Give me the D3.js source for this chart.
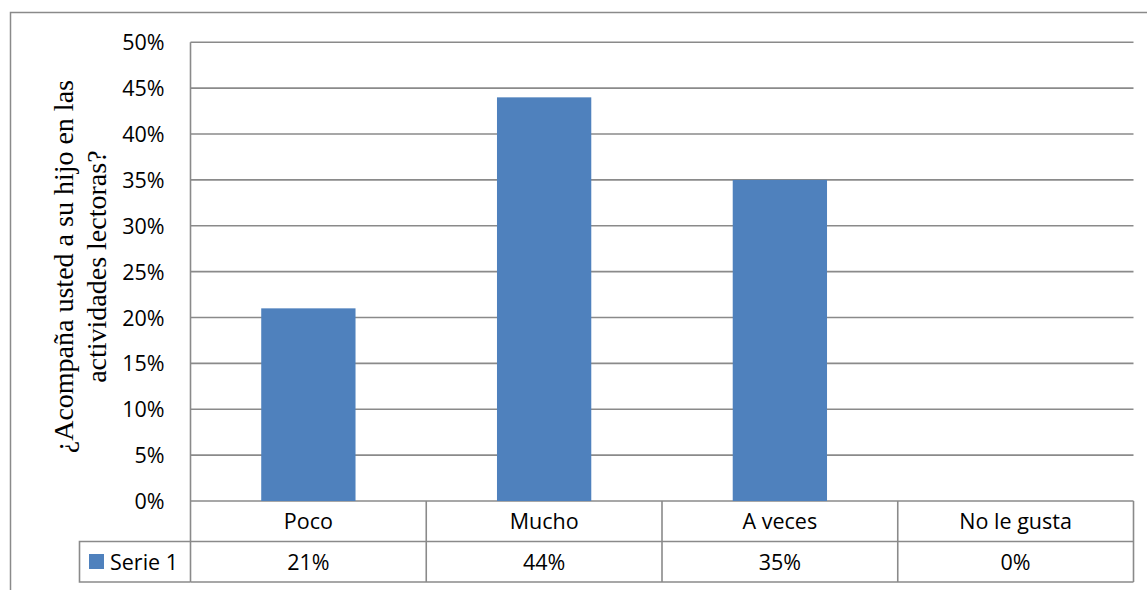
<!DOCTYPE html>
<html><head><meta charset="utf-8">
<script src="https://cdn.jsdelivr.net/npm/d3@7"></script>
<style>body{margin:0;background:#fff}svg{display:block}</style>
</head><body>
<svg id="c" width="1147" height="590"></svg>
<script>
const categories = ["Poco", "Mucho", "A veces", "No le gusta"];
const seriesName = "Serie 1";
const values = [0.21, 0.44, 0.35, 0.00];
const yTicks = [0, 0.05, 0.10, 0.15, 0.20, 0.25, 0.30, 0.35, 0.40, 0.45, 0.50];
const yTitleLines = ["¿Acompaña usted a su hijo en las", "actividades lectoras?"];

const svg = d3.select("#c");
const L = 190.5, R = 1133.5, T = 42.3, B = 501;
const rowH = 40.5;
const gridColor = "#8a8a8a";
const font = "'Open Sans', 'Liberation Sans', sans-serif";
const fs = 21.5;

// outer frame
svg.append("path").attr("d", `M10.5,590 V12.5 H1147`).attr("fill","none")
  .attr("stroke", gridColor).attr("stroke-width", 1.5);

const y = d3.scaleLinear().domain([0, 0.5]).range([B, T]);
const xCol = d3.scaleBand().domain(categories).range([L, R]).padding(0);
const xBar = d3.scaleBand().domain(categories).range([L, R]).paddingInner(0.6).paddingOuter(0.3);

// gridlines
svg.append("g").selectAll("line").data(yTicks).join("line")
  .attr("x1", L).attr("x2", R).attr("y1", d => y(d)).attr("y2", d => y(d))
  .attr("stroke", gridColor).attr("stroke-width", 1.6);

// y axis labels
const yAxis = d3.axisLeft(y).tickValues(yTicks).tickFormat(d3.format(".0%")).tickSize(0).tickPadding(26);
const ga = svg.append("g").attr("transform", `translate(${L},0)`).call(yAxis);
ga.select(".domain").remove();
ga.selectAll("text").attr("font-family", font).attr("font-size", fs).attr("fill", "#000").attr("dy", "0.35em");

// bars
svg.append("g").selectAll("rect").data(values).join("rect")
  .attr("x", (d, i) => xBar(categories[i]))
  .attr("width", xBar.bandwidth())
  .attr("y", d => y(d))
  .attr("height", d => B - y(d))
  .attr("fill", "#4f81bd");

// data table
const tbl = svg.append("g").attr("stroke", gridColor).attr("stroke-width", 1.6).attr("fill", "none");
tbl.append("line").attr("x1", L).attr("x2", L).attr("y1", T).attr("y2", B + 2 * rowH);
tbl.append("line").attr("x1", L).attr("x2", R).attr("y1", B + rowH).attr("y2", B + rowH);
tbl.append("line").attr("x1", L).attr("x2", R).attr("y1", B + 2 * rowH).attr("y2", B + 2 * rowH);
tbl.append("line").attr("x1", R).attr("x2", R).attr("y1", B).attr("y2", B + 2 * rowH);
tbl.selectAll(".sep").data(categories.slice(1)).join("line")
  .attr("x1", d => xCol(d)).attr("x2", d => xCol(d)).attr("y1", B).attr("y2", B + 2 * rowH);
// legend cell
const legL = 79.5;
tbl.append("path").attr("d", `M${L},${B + rowH} H${legL} V${B + 2 * rowH} H${L}`);

// category labels
svg.append("g").selectAll("text").data(categories).join("text")
  .attr("x", d => xCol(d) + xCol.bandwidth() / 2).attr("y", B + rowH / 2 + 8)
  .attr("text-anchor", "middle").attr("font-family", font).attr("font-size", fs).text(d => d);
// value labels
svg.append("g").selectAll("text").data(values).join("text")
  .attr("x", (d, i) => xCol(categories[i]) + xCol.bandwidth() / 2).attr("y", B + rowH * 1.5 + 8)
  .attr("text-anchor", "middle").attr("font-family", font).attr("font-size", fs).text(d => d3.format(".0%")(d));
// legend
svg.append("rect").attr("x", 89).attr("y", 554).attr("width", 15).attr("height", 15).attr("fill", "#4f81bd");
svg.append("text").attr("x", 110).attr("y", B + rowH * 1.5 + 8).attr("font-family", font).attr("font-size", fs).text(seriesName);

// y title
const yt = svg.append("text").attr("transform", `translate(0,${(T + B) / 2 - 5}) rotate(-90)`)
  .attr("text-anchor", "middle").attr("font-family", "'Liberation Serif', 'Times New Roman', serif")
  .attr("font-size", 28).attr("fill", "#000");
yt.selectAll("tspan").data(yTitleLines).join("tspan")
  .attr("x", 0).attr("y", (d, i) => 73 + i * 33).text(d => d);
</script>
</body></html>
